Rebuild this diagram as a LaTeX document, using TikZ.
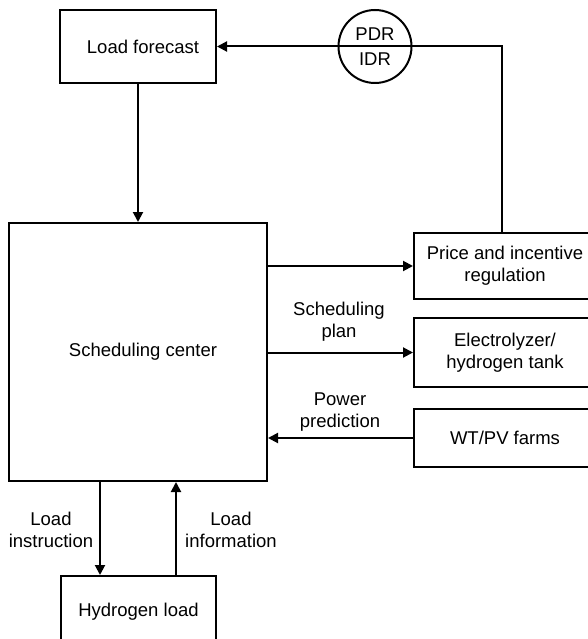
\documentclass[tikz,border=0pt]{standalone}
\usepackage{fontspec}
\setmainfont{Liberation Sans}
\usetikzlibrary{arrows.meta,calc}

\tikzset{
  box/.style={draw, line width=2pt, inner sep=0pt, align=center,
    font=\fontsize{18.5}{22}\selectfont},
  lbl/.style={inner sep=0pt, align=center, font=\fontsize{18.5}{22}\selectfont},
  arr/.style={line width=2pt, -{Triangle[length=10pt,width=10pt]}},
  wire/.style={line width=2pt}
}

\begin{document}
\begin{tikzpicture}[x=1pt,y=-1pt]
  \useasboundingbox (0,0) rectangle (588,639);
  \clip (0,0) rectangle (588,639);

  % blocks
  \node[box, minimum width=156pt, minimum height=73pt] (lf) at (138,46.5) {\hspace*{10pt}Load forecast};
  \node[box, minimum width=258pt, minimum height=258pt] (sc) at (138,352) {\raisebox{4pt}{\hspace*{10pt}Scheduling center}};
  \node[box, minimum width=182pt, minimum height=66pt] (price) at (505,266) {Price and incentive\\regulation};
  \node[box, minimum width=182pt, minimum height=69pt] (elec) at (505,352.5) {Electrolyzer/\\hydrogen tank};
  \node[box, minimum width=182pt, minimum height=58pt] (wt) at (505,438) {WT/PV farms};
  \node[box, minimum width=155pt, minimum height=72pt] (hl) at (138.5,612) {Hydrogen load};

  % demand response feedback loop, passing through the PDR/IDR circle
  \node[draw, circle, line width=2pt, minimum size=73pt, inner sep=0pt] (dr) at (375,46.5) {};
  \node[lbl] (pdr) at (375,34) {PDR};
  \node[lbl] (idr) at (375,59) {IDR};
  \coordinate (turn) at (502,46.5);
  \draw[wire] (price.north -| turn) -- (turn) -- (dr.east) -- (dr.west);
  \draw[arr] (dr.west) -- (lf.east);

  % forecast into scheduling center
  \draw[arr] (lf.south) -- (sc.north);

  % scheduling center to the right-hand blocks
  \draw[arr] (sc.east |- price.west) -- (price.west);
  \draw[arr] (sc.east |- elec.west) -- (elec.west);
  \draw[arr] (wt.west) -- (sc.east |- wt.west);
  \node[lbl] (splan) at (339,322) {Scheduling\\plan};
  \node[lbl] (ppred) at (340,412.5) {Power\\prediction};

  % links with the hydrogen load
  \coordinate (xa) at (100,0);
  \coordinate (xb) at (176,0);
  \draw[arr] (sc.south -| xa) -- (hl.north -| xa);
  \draw[arr] (hl.north -| xb) -- (sc.south -| xb);
  \node[lbl] (linstr) at (51,530) {Load\\instruction};
  \node[lbl] (linfo) at (231,530) {Load\\information};
\end{tikzpicture}
\end{document}
